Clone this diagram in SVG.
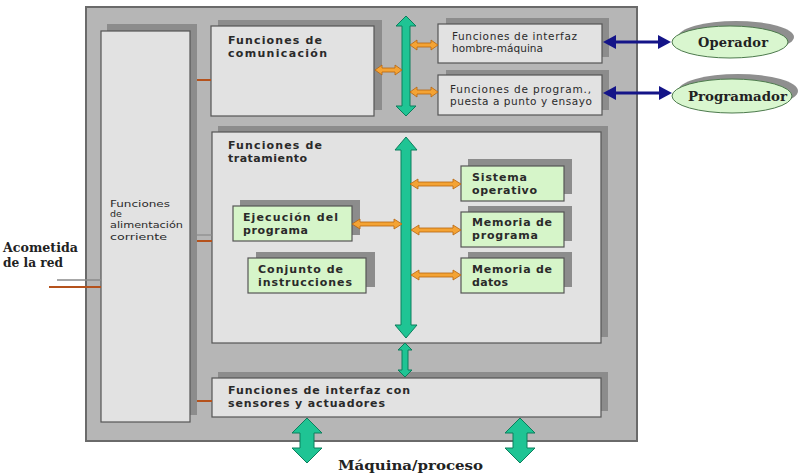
<svg xmlns="http://www.w3.org/2000/svg" width="808" height="474" viewBox="0 0 808 474">
<style>
.shadow{fill:#8c8c8c}
.box{fill:#e2e2e2;stroke:#555;stroke-width:1.2}
.gbox{fill:#d6f5c9;stroke:#555;stroke-width:1.2}
.bus{fill:#1fc494;stroke:#0c7e5c;stroke-width:1}
.oarr{fill:#f4a334;stroke:#b8650e;stroke-width:0.8}
.t{font-family:"DejaVu Sans",Verdana,sans-serif;fill:#2a2a2a}
.tb{font-family:"DejaVu Sans",Verdana,sans-serif;font-weight:bold;fill:#2a2a2a}
.s{font-family:"DejaVu Serif","Liberation Serif",serif;font-weight:bold;fill:#222}
.ell{fill:#d9f6cf;stroke:#4d7a4d;stroke-width:1}
.eshadow{fill:#8f8f8f}
.blue{stroke:#141488;stroke-width:3;fill:none}
.bluehead{fill:#141488}
</style>
<rect x="86" y="7" width="551" height="434" fill="#b6b6b6" stroke="#6a6a6a" stroke-width="2"/>

<g id="alimentacion">
<rect class="shadow" x="107" y="24" width="90" height="391"/>
<rect class="box" x="101" y="31" width="89" height="391"/>
<text class="t" font-size="9.5"><tspan x="110" y="207" textLength="60" lengthAdjust="spacingAndGlyphs">Funciones</tspan><tspan x="110" y="217">de</tspan><tspan x="110" y="228" textLength="73" lengthAdjust="spacingAndGlyphs">alimentación</tspan><tspan x="110" y="240" textLength="57" lengthAdjust="spacingAndGlyphs">corriente</tspan></text>
</g>

<g id="comunicacion">
<rect class="shadow" x="218" y="20" width="164" height="90"/>
<rect class="box" x="211" y="26" width="163" height="90"/>
<text class="tb" font-size="11"><tspan x="228" y="44" textLength="94" lengthAdjust="spacing">Funciones de</tspan><tspan x="228" y="57" textLength="99" lengthAdjust="spacing">comunicación</tspan></text>
</g>

<g id="hombre-maquina">
<rect class="shadow" x="446" y="18" width="163" height="39"/>
<rect class="box" x="438" y="24" width="164" height="39"/>
<text class="t" font-size="10.5"><tspan x="452" y="40" textLength="125" lengthAdjust="spacing">Funciones de interfaz</tspan><tspan x="452" y="52" textLength="91" lengthAdjust="spacing">hombre-máquina</tspan></text>
</g>

<g id="programacion">
<rect class="shadow" x="446" y="70" width="163" height="40"/>
<rect class="box" x="438" y="75" width="164" height="40"/>
<text class="t" font-size="10.5"><tspan x="450" y="93" textLength="141" lengthAdjust="spacing">Funciones de program.,</tspan><tspan x="450" y="105" textLength="142" lengthAdjust="spacing">puesta a punto y ensayo</tspan></text>
</g>

<g id="tratamiento">
<rect class="shadow" x="218" y="126" width="390" height="211"/>
<rect class="box" x="212" y="132" width="389" height="211"/>
<text class="tb" font-size="11"><tspan x="228" y="149" textLength="94" lengthAdjust="spacing">Funciones de</tspan><tspan x="228" y="162" textLength="79" lengthAdjust="spacing">tratamiento</tspan></text>
</g>

<g id="sistema-operativo">
<rect class="shadow" x="468" y="159" width="104" height="35"/>
<rect class="gbox" x="461" y="166" width="103" height="35"/>
<text class="tb" font-size="11"><tspan x="472" y="181" textLength="55" lengthAdjust="spacing">Sistema</tspan><tspan x="472" y="194" textLength="65" lengthAdjust="spacing">operativo</tspan></text>
</g>

<g id="memoria-programa">
<rect class="shadow" x="468" y="206" width="104" height="35"/>
<rect class="gbox" x="461" y="212" width="103" height="35"/>
<text class="tb" font-size="11"><tspan x="472" y="226" textLength="80" lengthAdjust="spacing">Memoria de</tspan><tspan x="472" y="239" textLength="66" lengthAdjust="spacing">programa</tspan></text>
</g>

<g id="memoria-datos">
<rect class="shadow" x="468" y="252" width="104" height="35"/>
<rect class="gbox" x="461" y="258" width="103" height="35"/>
<text class="tb" font-size="11"><tspan x="472" y="273" textLength="80" lengthAdjust="spacing">Memoria de</tspan><tspan x="472" y="286" textLength="36" lengthAdjust="spacing">datos</tspan></text>
</g>

<g id="ejecucion">
<rect class="shadow" x="240" y="200" width="120" height="35"/>
<rect class="gbox" x="233" y="206" width="119" height="35"/>
<text class="tb" font-size="11"><tspan x="243" y="221" textLength="95" lengthAdjust="spacing">Ejecución del</tspan><tspan x="243" y="234" textLength="65" lengthAdjust="spacing">programa</tspan></text>
</g>

<g id="conjunto">
<rect class="shadow" x="256" y="252" width="119" height="35"/>
<rect class="gbox" x="248" y="258" width="118" height="35"/>
<text class="tb" font-size="11"><tspan x="258" y="273" textLength="85" lengthAdjust="spacing">Conjunto de</tspan><tspan x="258" y="286" textLength="94" lengthAdjust="spacing">instrucciones</tspan></text>
</g>

<g id="sensores">
<rect class="shadow" x="218" y="372" width="390" height="39"/>
<rect class="box" x="212" y="378" width="389" height="39"/>
<text class="tb" font-size="11"><tspan x="228" y="394" textLength="182" lengthAdjust="spacing">Funciones de interfaz con</tspan><tspan x="228" y="407" textLength="157" lengthAdjust="spacing">sensores y actuadores</tspan></text>
</g>

<g id="operador">
<ellipse class="eshadow" cx="736" cy="37" rx="58" ry="16"/>
<ellipse class="ell" cx="730" cy="42" rx="58" ry="16"/>
<text class="s" font-size="13" x="698" y="47" textLength="70" lengthAdjust="spacing">Operador</text>
</g>

<g id="programador">
<ellipse class="eshadow" cx="738" cy="91" rx="60" ry="17"/>
<ellipse class="ell" cx="732" cy="96" rx="60" ry="17"/>
<text class="s" font-size="13" x="688" y="101" textLength="99" lengthAdjust="spacingAndGlyphs">Programador</text>
</g>

<g id="acometida">
<text class="s" font-size="12.5"><tspan x="3" y="252" textLength="75" lengthAdjust="spacingAndGlyphs">Acometida</tspan><tspan x="3" y="267" textLength="60" lengthAdjust="spacingAndGlyphs">de la red</tspan></text>
</g>

<g id="maquina">
<text class="s" font-size="13" x="338" y="470" textLength="145" lengthAdjust="spacingAndGlyphs">Máquina/proceso</text>
</g>

<g id="connectors">
<line x1="57" y1="280" x2="101" y2="280" stroke="#8a8a8a" stroke-width="1.5"/>
<line x1="49" y1="287" x2="101" y2="287" stroke="#b5521c" stroke-width="2"/>
<line x1="197" y1="80" x2="211" y2="80" stroke="#b5521c" stroke-width="2"/>
<line x1="197" y1="235" x2="212" y2="235" stroke="#8a8a8a" stroke-width="1.2"/>
<line x1="197" y1="241" x2="212" y2="241" stroke="#b5521c" stroke-width="2"/>
<line x1="197" y1="401" x2="212" y2="401" stroke="#b5521c" stroke-width="2"/>
<path class="bus" d="M406,16 L416,26 L410,26 L410,106 L416,106 L406,116 L396,106 L402,106 L402,26 L396,26 Z"/>
<path class="bus" d="M406,137 L417,150 L411,150 L411,325 L417,325 L406,338 L395,325 L401,325 L401,150 L395,150 Z"/>
<path class="bus" d="M405,343 L412,350 L408,350 L408,370 L412,370 L405,377 L398,370 L402,370 L402,350 L398,350 Z"/>
<path class="bus" d="M307,418 L322,433 L314,433 L314,448 L322,448 L307,463 L292,448 L300,448 L300,433 L292,433 Z"/>
<path class="bus" d="M520,418 L535,433 L527,433 L527,448 L535,448 L520,463 L505,448 L513,448 L513,433 L505,433 Z"/>
<path class="oarr" d="M375,70 L382,65 L382,68 L395,68 L395,65 L402,70 L395,75 L395,72 L382,72 L382,75 Z"/>
<path class="oarr" d="M410,45 L417,40 L417,43 L431,43 L431,40 L438,45 L431,50 L431,47 L417,47 L417,50 Z"/>
<path class="oarr" d="M410,92 L417,87 L417,90 L431,90 L431,87 L438,92 L431,97 L431,94 L417,94 L417,97 Z"/>
<path class="oarr" d="M410,184 L418,179 L418,182 L453,182 L453,179 L461,184 L453,189 L453,186 L418,186 L418,189 Z"/>
<path class="oarr" d="M411,230 L419,225 L419,228 L453,228 L453,225 L461,230 L453,235 L453,232 L419,232 L419,235 Z"/>
<path class="oarr" d="M411,275 L419,270 L419,273 L453,273 L453,270 L461,275 L453,280 L453,277 L419,277 L419,280 Z"/>
<path class="oarr" d="M352,224 L360,219 L360,222 L394,222 L394,219 L402,224 L394,229 L394,226 L360,226 L360,229 Z"/>
<line class="blue" x1="614" y1="42" x2="660" y2="42"/>
<path class="bluehead" d="M603,42 L616,35 L616,49 Z"/>
<path class="bluehead" d="M671,42 L658,35 L658,49 Z"/>
<line class="blue" x1="614" y1="93" x2="661" y2="93"/>
<path class="bluehead" d="M603,93 L616,86 L616,100 Z"/>
<path class="bluehead" d="M672,93 L659,86 L659,100 Z"/>
</g>
</svg>
